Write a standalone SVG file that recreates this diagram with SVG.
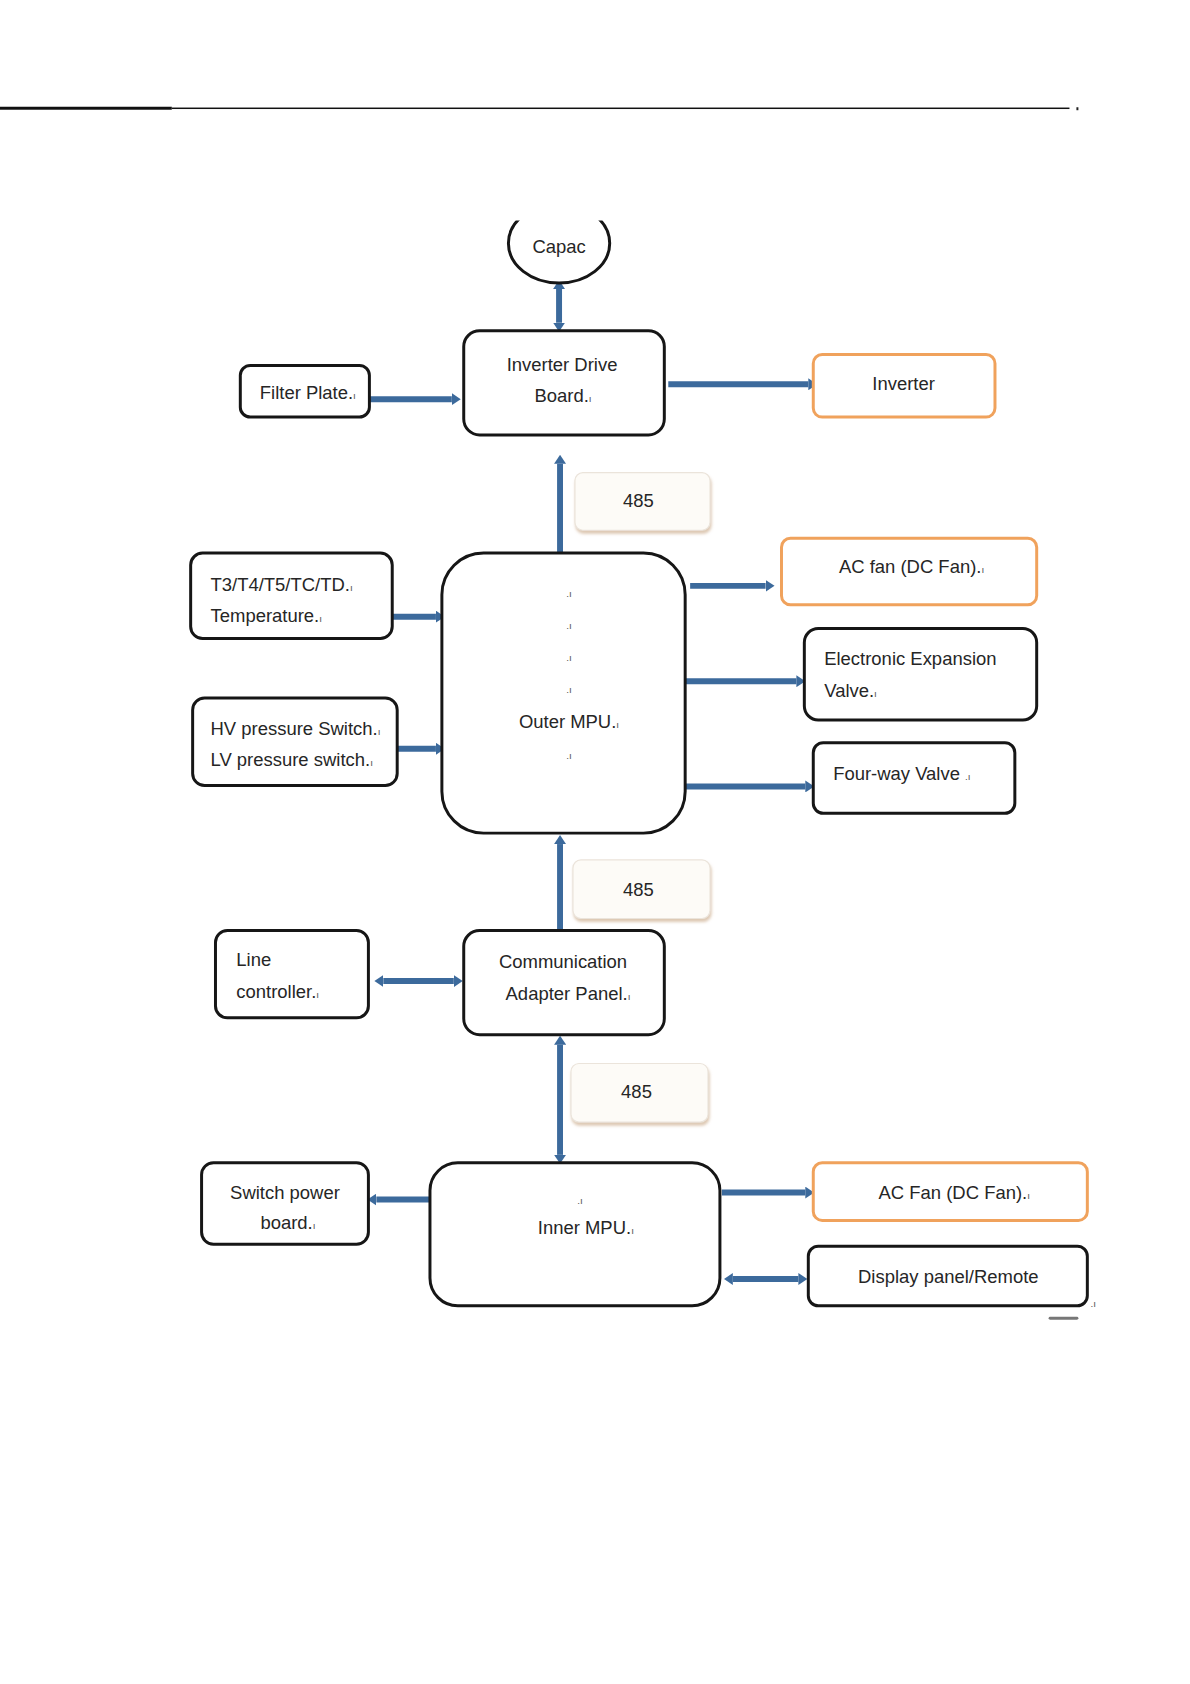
<svg xmlns="http://www.w3.org/2000/svg" width="1190" height="1684" viewBox="0 0 1190 1684">
<style>
.box{fill:#fff;stroke:#161616;stroke-width:3}
.obox{fill:#fff;stroke:#f0a25c;stroke-width:3}
.tag{fill:#fdfbf7;stroke:#ebe4db;stroke-width:1.2}
.t{font-family:"Liberation Sans",Arial,sans-serif;font-size:18.6px;fill:#262626}
.m{font-size:10px;fill:#555}
.c{stroke:#3c6a9c;stroke-width:6;fill:none}
</style>
<defs>
<marker id="ah" viewBox="0 0 9 12" refX="0" refY="6" markerWidth="9" markerHeight="12" markerUnits="userSpaceOnUse" orient="auto-start-reverse">
<path d="M0,0 L9,6 L0,12 Z" fill="#3c6a9c"/>
</marker>
<filter id="sh" x="-10%" y="-10%" width="130%" height="140%">
<feDropShadow dx="1" dy="3" stdDeviation="1.5" flood-color="#d9c2aa" flood-opacity="0.9"/>
</filter>
<clipPath id="capclip"><rect x="480" y="222" width="170" height="80"/></clipPath>
</defs>

<g transform="scale(0.993)">
<rect x="0" y="107.5" width="173" height="3" fill="#111"/>
<rect x="173" y="108.3" width="904" height="1.5" fill="#111"/>
<rect x="1084" y="108" width="2" height="3" fill="#222"/>

<g id="connectors">
<line class="c" x1="563" y1="291" x2="563" y2="325" marker-start="url(#ah)" marker-end="url(#ah)"/>
<line class="c" x1="372" y1="402" x2="455" y2="402" marker-end="url(#ah)"/>
<line class="c" x1="673" y1="387" x2="814" y2="387" marker-end="url(#ah)"/>
<line class="c" x1="564" y1="557" x2="564" y2="467" marker-end="url(#ah)"/>
<line class="c" x1="395" y1="621" x2="439" y2="621" marker-end="url(#ah)"/>
<line class="c" x1="400" y1="754" x2="439" y2="754" marker-end="url(#ah)"/>
<line class="c" x1="695" y1="590" x2="771" y2="590" marker-end="url(#ah)"/>
<line class="c" x1="690" y1="686" x2="802" y2="686" marker-end="url(#ah)"/>
<line class="c" x1="690" y1="792" x2="811" y2="792" marker-end="url(#ah)"/>
<line class="c" x1="564" y1="937" x2="564" y2="850" marker-end="url(#ah)"/>
<line class="c" x1="386" y1="988" x2="457" y2="988" marker-start="url(#ah)" marker-end="url(#ah)"/>
<line class="c" x1="564" y1="1052" x2="564" y2="1163" marker-start="url(#ah)" marker-end="url(#ah)"/>
<line class="c" x1="379" y1="1208" x2="433" y2="1208" marker-start="url(#ah)"/>
<line class="c" x1="727" y1="1201" x2="811" y2="1201" marker-end="url(#ah)"/>
<line class="c" x1="738" y1="1288" x2="804" y2="1288" marker-start="url(#ah)" marker-end="url(#ah)"/>
</g>

<g id="capac">
<ellipse cx="563" cy="245" rx="51" ry="40" fill="#fff" stroke="#161616" stroke-width="3" clip-path="url(#capclip)"/>
<text class="t" x="563" y="255" text-anchor="middle">Capac</text>
</g>

<g id="inverter-drive-board">
<rect class="box" x="467" y="333" width="202" height="105" rx="16"/>
<text class="t" x="566" y="374" text-anchor="middle">Inverter Drive</text>
<text class="t" x="567" y="405" text-anchor="middle">Board.<tspan class="m">ı</tspan></text>
</g>

<g id="filter-plate">
<rect class="box" x="242" y="368" width="130" height="52" rx="10"/>
<text class="t" x="310" y="402" text-anchor="middle">Filter Plate.<tspan class="m">ı</tspan></text>
</g>

<g id="inverter">
<rect class="obox" x="819" y="357" width="183" height="63" rx="9"/>
<text class="t" x="910" y="393" text-anchor="middle">Inverter</text>
</g>

<g id="tag-485-1">
<rect class="tag" x="579" y="476" width="136" height="58" rx="8" filter="url(#sh)"/>
<text class="t" x="643" y="511" text-anchor="middle">485</text>
</g>

<g id="outer-mpu">
<rect class="box" x="445" y="557" width="245" height="282" rx="42"/>
<text class="t m" x="573" y="601" text-anchor="middle">.ı</text>
<text class="t m" x="573" y="633" text-anchor="middle">.ı</text>
<text class="t m" x="573" y="666" text-anchor="middle">.ı</text>
<text class="t m" x="573" y="698" text-anchor="middle">.ı</text>
<text class="t" x="573" y="733" text-anchor="middle">Outer MPU.<tspan class="m">ı</tspan></text>
<text class="t m" x="573" y="764" text-anchor="middle">.ı</text>
</g>

<g id="temperature">
<rect class="box" x="192" y="557" width="203" height="86" rx="12"/>
<text class="t" x="212" y="595">T3/T4/T5/TC/TD.<tspan class="m">ı</tspan></text>
<text class="t" x="212" y="626">Temperature.<tspan class="m">ı</tspan></text>
</g>

<g id="pressure-switch">
<rect class="box" x="194" y="703" width="206" height="88" rx="12"/>
<text class="t" x="212" y="740">HV pressure Switch.<tspan class="m">ı</tspan></text>
<text class="t" x="212" y="771">LV pressure switch.<tspan class="m">ı</tspan></text>
</g>

<g id="ac-fan-outer">
<rect class="obox" x="787" y="542" width="257" height="67" rx="9"/>
<text class="t" x="918" y="577" text-anchor="middle">AC fan (DC Fan).<tspan class="m">ı</tspan></text>
</g>

<g id="expansion-valve">
<rect class="box" x="810" y="633" width="234" height="92" rx="14"/>
<text class="t" x="830" y="670">Electronic Expansion</text>
<text class="t" x="830" y="702">Valve.<tspan class="m">ı</tspan></text>
</g>

<g id="four-way-valve">
<rect class="box" x="819" y="748" width="203" height="71" rx="10"/>
<text class="t" x="839" y="785">Four-way Valve <tspan class="m">.ı</tspan></text>
</g>

<g id="tag-485-2">
<rect class="tag" x="577" y="866" width="138" height="59" rx="8" filter="url(#sh)"/>
<text class="t" x="643" y="902" text-anchor="middle">485</text>
</g>

<g id="line-controller">
<rect class="box" x="217" y="937" width="154" height="88" rx="12"/>
<text class="t" x="238" y="973">Line</text>
<text class="t" x="238" y="1005">controller.<tspan class="m">ı</tspan></text>
</g>

<g id="communication-adapter-panel">
<rect class="box" x="467" y="937" width="202" height="105" rx="16"/>
<text class="t" x="567" y="975" text-anchor="middle">Communication</text>
<text class="t" x="572" y="1007" text-anchor="middle">Adapter Panel.<tspan class="m">ı</tspan></text>
</g>

<g id="tag-485-3">
<rect class="tag" x="575" y="1071" width="138" height="59" rx="8" filter="url(#sh)"/>
<text class="t" x="641" y="1106" text-anchor="middle">485</text>
</g>

<g id="switch-power-board">
<rect class="box" x="203" y="1171" width="168" height="82" rx="12"/>
<text class="t" x="287" y="1207" text-anchor="middle">Switch power</text>
<text class="t" x="290" y="1238" text-anchor="middle">board.<tspan class="m">ı</tspan></text>
</g>

<g id="inner-mpu">
<rect class="box" x="433" y="1171" width="292" height="144" rx="28"/>
<text class="t m" x="584" y="1212" text-anchor="middle">.ı</text>
<text class="t" x="590" y="1243" text-anchor="middle">Inner MPU.<tspan class="m">ı</tspan></text>
</g>

<g id="ac-fan-inner">
<rect class="obox" x="819" y="1171" width="276" height="58" rx="9"/>
<text class="t" x="961" y="1207" text-anchor="middle">AC Fan (DC Fan).<tspan class="m">ı</tspan></text>
</g>

<g id="display-panel">
<rect class="box" x="814" y="1255" width="281" height="60" rx="10"/>
<text class="t" x="955" y="1292" text-anchor="middle">Display panel/Remote</text>
<text class="t m" x="1101" y="1316" text-anchor="middle">.ı</text>
</g>
<rect x="1056" y="1326" width="30" height="3" rx="1.5" fill="#777"/>
</g>
</svg>
